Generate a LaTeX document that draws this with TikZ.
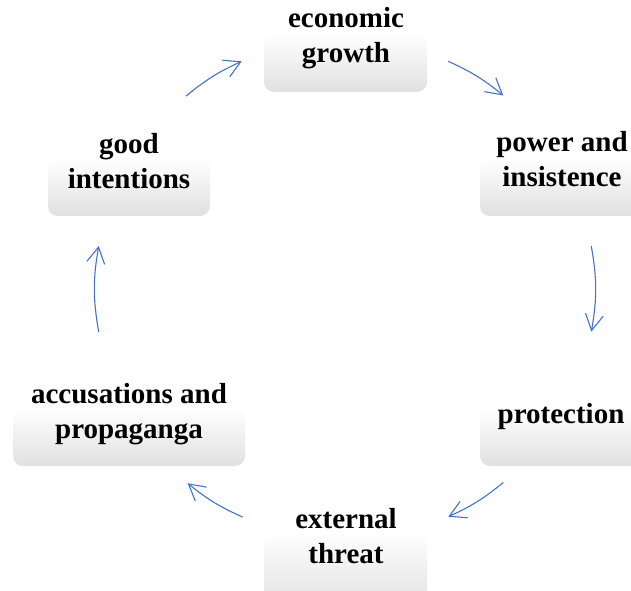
\documentclass[tikz,border=0pt]{standalone}
\usepackage{fontspec}
\setmainfont{Liberation Serif}
\usetikzlibrary{arrows.meta}
\definecolor{cycBlue}{HTML}{4472C4}
\definecolor{boxGray}{HTML}{E0E0E0}

\begin{document}
\begin{tikzpicture}[x=1pt, y=1pt,
    lbl/.style={anchor=base, align=center, font=\bfseries\fontsize{29}{35}\selectfont},
    panel/.style={top color=white, bottom color=boxGray, rounded corners=10pt},
    cyc/.style={cycBlue, line width=1.1pt, -{Straight Barb[length=16pt, width=18pt]}}]
    \useasboundingbox (0,0) rectangle (631,590);
    \clip (0,0) rectangle (631,590);
    % boxes
    \shade[panel] (264,498) rectangle (427,556);
    \shade[panel] (480,374) rectangle (660,432);
    \shade[panel] (480,124) rectangle (660,182);
    \shade[panel] (264,-20) rectangle (427,58);
    \shade[panel] (13,124) rectangle (245,182);
    \shade[panel] (48,374) rectangle (210,432);
    % labels (base = last line)
    \node[lbl] (eco) at (346,527) {economic\\growth};
    \node[lbl] (power) at (562,403) {power and\\insistence};
    \node[lbl] (prot) at (561,167) {protection};
    \node[lbl] (threat) at (346,27) {external\\threat};
    \node[lbl] (accus) at (129,152) {accusations and\\propaganga};
    \node[lbl] (good) at (129,401) {good\\intentions};
    % arrows on the cycle
    \coordinate (o) at (345,301);
    \coordinate (g1) at ([shift={(129.5:250)}]o);
    \coordinate (g2) at ([shift={(114.4:250)}]o);
    \coordinate (e1) at ([shift={(65.6:250)}]o);
    \coordinate (e2) at ([shift={(50.7:250)}]o);
    \coordinate (p1) at ([shift={(9.9:250)}]o);
    \coordinate (p2) at ([shift={(-9.8:250)}]o);
    \coordinate (r1) at ([shift={(-50.7:250)}]o);
    \coordinate (r2) at ([shift={(-65.6:250)}]o);
    \coordinate (t1) at ([shift={(245.8:250)}]o);
    \coordinate (t2) at ([shift={(231:250)}]o);
    \coordinate (c1) at ([shift={(189.9:250)}]o);
    \coordinate (c2) at ([shift={(170.1:250)}]o);
    \draw[cyc] (g1) to[bend left=7.5] (g2);
    \draw[cyc] (e1) to[bend left=7.5] (e2);
    \draw[cyc] (p1) to[bend left=10] (p2);
    \draw[cyc] (r1) to[bend left=7.5] (r2);
    \draw[cyc] (t1) to[bend left=7.5] (t2);
    \draw[cyc] (c1) to[bend left=10] (c2);
\end{tikzpicture}
\end{document}
